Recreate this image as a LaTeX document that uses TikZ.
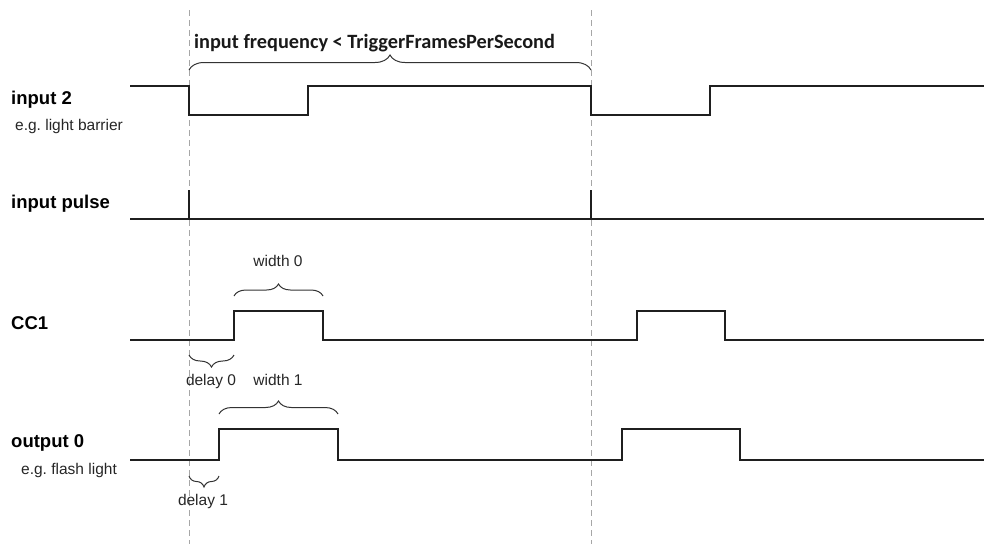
\documentclass[tikz,border=0pt]{standalone}
\usepackage{fontspec}
\setmainfont{Liberation Sans}
\newfontfamily\calib{Carlito}
\usetikzlibrary{decorations.pathreplacing}
\frenchspacing
\begin{document}
\begin{tikzpicture}[x=1pt,y=-1pt,
  wave/.style={line width=2pt,color=black!88,line join=miter},
  guide/.style={line width=1pt,color=black!35,dash pattern=on 6pt off 4pt},
  brc/.style={line width=1pt,color=black!80,decorate,decoration={brace,amplitude=#1}},
  brc/.default=13pt,
  sig/.style={font=\fontsize{18.5}{20}\selectfont\bfseries,anchor=base west,inner sep=0pt},
  note/.style={font=\fontsize{15.5}{17}\selectfont,anchor=base west,inner sep=0pt,text=black!85},
  meas/.style={font=\fontsize{15.5}{17}\selectfont,anchor=base,inner sep=0pt,text=black!85}]
\useasboundingbox (0,0) rectangle (984,544);
% guide lines
\coordinate (g1t) at (189,10); \coordinate (g1b) at (189,544);
\coordinate (g2t) at (591,10); \coordinate (g2b) at (591,544);
\draw[guide] (g1t) -- (g1b);
\draw[guide] (g2t) -- (g2b);
% labels
\node[sig] (l2) at (11,104) {input 2};
\node[note] (l2n) at (15,130) {e.g. light barrier};
\node[sig] (lp) at (11,208) {input pulse};
\node[sig] (lc) at (11,329) {CC1};
\node[sig] (lo) at (11,447) {output 0};
\node[note] (lon) at (21,474) {e.g. flash light};
% waveforms
\draw[wave] (130,86) -- (189,86) -- (189,115) -- (308,115) -- (308,86) -- (591,86) -- (591,115) -- (710,115) -- (710,86) -- (984,86);
\draw[wave] (130,219) -- (984,219);
\draw[wave] (189,219) -- (189,190);
\draw[wave] (591,219) -- (591,190);
\draw[wave] (130,340) -- (234,340) -- (234,311) -- (323,311) -- (323,340) -- (637,340) -- (637,311) -- (725,311) -- (725,340) -- (984,340);
\draw[wave] (130,460) -- (219,460) -- (219,429) -- (338,429) -- (338,460) -- (622,460) -- (622,429) -- (740,429) -- (740,460) -- (984,460);
% braces
\coordinate (b1a) at (189,70); \coordinate (b1b) at (591,70);
\draw[brc=15pt] (b1a) -- (b1b);
\node[font=\calib\fontsize{20.3}{22}\selectfont\bfseries,anchor=base west,inner sep=0pt,text=black!90] (tf) at (194,48) {input frequency < TriggerFramesPerSecond};
\coordinate (w0a) at (234,296); \coordinate (w0b) at (323,296);
\draw[brc=12pt] (w0a) -- (w0b);
\node[meas] (w0) at (278,266) {width 0};
\coordinate (d0a) at (189,355); \coordinate (d0b) at (234,355);
\draw[brc=12pt] (d0b) -- (d0a);
\node[meas] (d0) at (211,385) {delay 0};
\coordinate (w1a) at (219,414); \coordinate (w1b) at (338,414);
\draw[brc=13pt] (w1a) -- (w1b);
\node[meas] (w1) at (278,385) {width 1};
\coordinate (d1a) at (189,476); \coordinate (d1b) at (219,476);
\draw[brc=11pt] (d1b) -- (d1a);
\node[meas] (d1) at (203,505) {delay 1};
\end{tikzpicture}
\end{document}
